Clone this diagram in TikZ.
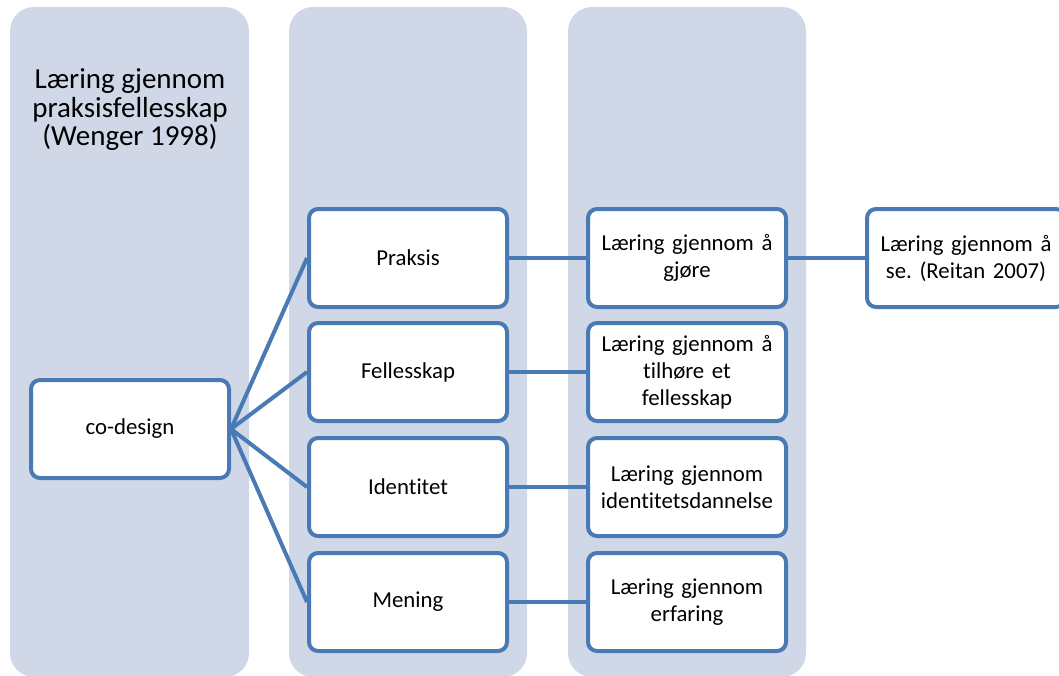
\documentclass[tikz,border=0pt]{standalone}
\usepackage{fontspec}
\setmainfont{Carlito}[Ligatures=NoCommon]
\usetikzlibrary{positioning}
\definecolor{kolonnefarge}{RGB}{208,216,232}
\definecolor{kant}{RGB}{74,122,180}
\frenchspacing
\tikzset{
  kolonne/.style={fill=kolonnefarge, rounded corners=24pt},
  boks/.style={draw=kant, line width=4pt, fill=white, rounded corners=9pt,
    minimum width=198pt, minimum height=98pt, inner sep=3pt,
    text width=190pt, align=center, font=\fontsize{22.8}{27}\selectfont},
  linje/.style={draw=kant, line width=4pt},
}

\begin{document}
\begin{tikzpicture}[x=1pt, y=-1pt]
    \useasboundingbox (0,0) rectangle (1059,675);
    % bakgrunnskolonner
    \fill[kolonne] (10,7) rectangle (249,677);
    \fill[kolonne] (289,7) rectangle (527,677);
    \fill[kolonne] (568,7) rectangle (806,677);
    \node[align=center, font=\fontsize{29}{28.5}\selectfont] (tittel) at (130,110)
      {Læring gjennom\\praksisfellesskap\\(Wenger 1998)};

    \node[boks] (codesign) at (130,429) {co-design};

    \node[boks] (praksis) at (408,258) {Praksis};
    \node[boks] (felles) at (408,372) {Fellesskap};
    \node[boks] (identitet) at (408,487) {Identitet};
    \node[boks] (mening) at (408,602) {Mening};

    \node[boks] (gjore) at (687,258) {Læring gjennom å\\gjøre};
    \node[boks] (tilhore) at (687,372) {Læring gjennom å\\tilhøre et\\fellesskap};
    \node[boks] (dannelse) at (687,487) {Læring gjennom\\identitetsdannelse};
    \node[boks] (erfaring) at (687,602) {Læring gjennom\\erfaring};

    \node[boks] (se) at (966,258) {Læring gjennom å\\se. (Reitan 2007)};

    % forbindelser
    \foreach \n in {praksis, felles, identitet, mening}
      \draw[linje] (codesign.east) -- (\n.west);
    \draw[linje] (praksis) -- (gjore);
    \draw[linje] (felles) -- (tilhore);
    \draw[linje] (identitet) -- (dannelse);
    \draw[linje] (mening) -- (erfaring);
    \draw[linje] (gjore) -- (se);
\end{tikzpicture}
\end{document}
